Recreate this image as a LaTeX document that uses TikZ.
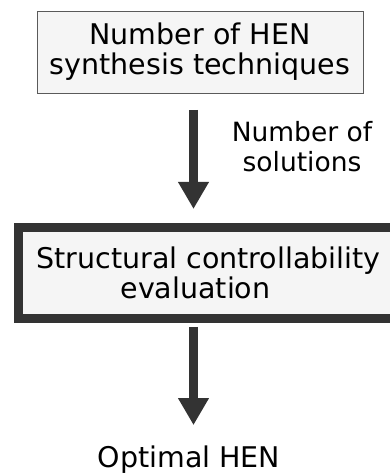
\documentclass[tikz,border=0pt]{standalone}
\usepackage{fontspec}
\setmainfont{DejaVu Sans}
\usetikzlibrary{arrows.meta}
\definecolor{darkgrey}{HTML}{333333}
\definecolor{boxgrey}{HTML}{F5F5F5}
\definecolor{edgegrey}{HTML}{5A5A5A}
\tikzset{>=latex}
\tikzset{
	stagebox/.style={draw=edgegrey,fill=boxgrey,line width=0.8pt,align=center,inner sep=0pt},
	mainbox/.style={draw=darkgrey,fill=boxgrey,line width=9pt,align=center,inner sep=0pt},
	flowarrow/.style={darkgrey,line width=9pt,-{Triangle[width=29pt,length=27pt]}},
	bigtext/.style={font=\fontsize{28.5}{30}\selectfont},
	smalltext/.style={font=\fontsize{26.5}{30}\selectfont}
}

\begin{document}
\begin{tikzpicture}[x=1pt,y=1pt]
	\useasboundingbox (0,0) rectangle (390,475);
	\clip (0,0) rectangle (390,475);
	\coordinate (T) at (200,423);
	\coordinate (E) at (208.5,202);
	\coordinate (A) at (193.5,0);
	\node[stagebox,bigtext,minimum width=326pt,minimum height=82pt] (techniques) at (T) {Number of HEN\\synthesis techniques};
	\node[mainbox,bigtext,minimum width=380pt,minimum height=91pt] (evaluation) at (E) {Structural controllability\\evaluation\hspace*{26pt}};
	\node[bigtext,inner sep=0pt,anchor=base] (optimal) at (189,8) {Optimal HEN};
	\node[smalltext,align=center] (solutions) at (302,328) {Number of\\solutions};
	\draw[flowarrow,shorten <=16.6pt,shorten >=14pt] (techniques.south -| A) -- (evaluation.north -| A);
	\draw[flowarrow,shorten <=4pt,shorten >=20pt] (evaluation.south -| A) -- (optimal.north -| A);
\end{tikzpicture}
\end{document}
